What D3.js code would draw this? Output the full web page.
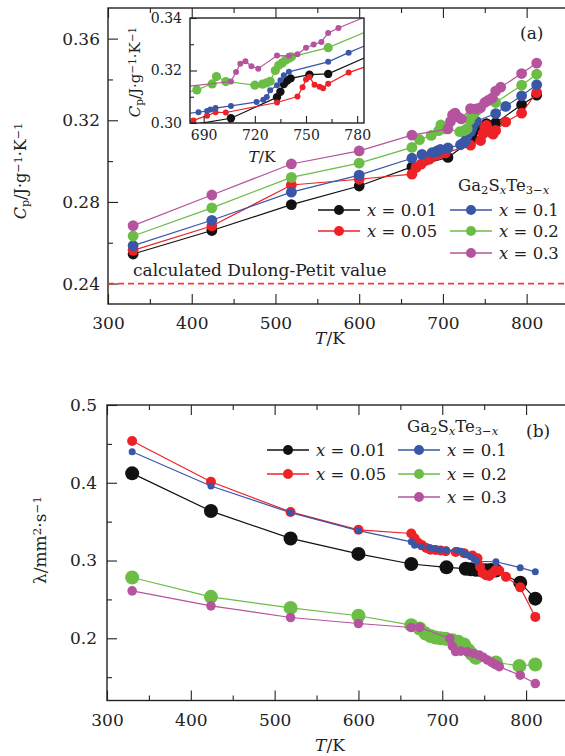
<!DOCTYPE html>
<html>
<head>
<meta charset="utf-8">
<script src="https://cdn.jsdelivr.net/npm/d3@7"></script>
<style>
  body { margin: 0; background: #fff; }
  svg text { font-family: "DejaVu Serif", serif; fill: #222; }
</style>
</head>
<body>
<svg id="chart" width="565" height="756"></svg>
<script>
// ---- data: [T (K), value] ----
// (a) specific heat Cp, J g^-1 K^-1
const cpX001 = [[330,0.2545],[424,0.2660],[519,0.2787],[600,0.2878],[663,0.2972],[706,0.3018],[733,0.3098],[735,0.3119],[737,0.3148],[739,0.3162],[741,0.3170],[752,0.3184],[763,0.3187],[794,0.3276],[812,0.3323]];
const cpX005 = [[330,0.2563],[424,0.2682],[519,0.2883],[600,0.2911],[663,0.2936],[668,0.2969],[674,0.2985],[680,0.3004],[684,0.3010],[692,0.3028],[697,0.3041],[703,0.3040],[733,0.3078],[745,0.3101],[748,0.3136],[750,0.3166],[752,0.3175],[755,0.3146],[758,0.3138],[760,0.3132],[763,0.3150],[775,0.3192],[794,0.3235],[812,0.3336]];
const cpX01  = [[330,0.2586],[424,0.2710],[519,0.2848],[600,0.2931],[663,0.3014],[675,0.3033],[687,0.3041],[692,0.3046],[694,0.3051],[697,0.3057],[706,0.3065],[721,0.3080],[725,0.3089],[727,0.3099],[729,0.3125],[733,0.3144],[735,0.3163],[737,0.3182],[740,0.3195],[763,0.3233],[775,0.3268],[794,0.3320],[812,0.3374]];
const cpX02  = [[330,0.2633],[424,0.2771],[519,0.2920],[600,0.2990],[663,0.3067],[672,0.3105],[686,0.3126],[695,0.3149],[697.5,0.3177],[703,0.3158],[720,0.3144],[724.5,0.3148],[727,0.3153],[729,0.3159],[732,0.3200],[734,0.3220],[736,0.3229],[738,0.3239],[740,0.3247],[741.5,0.3252],[763,0.3287],[794,0.3372],[812,0.3426]];
const cpX03  = [[330,0.2684],[424,0.2834],[519,0.2986],[600,0.3050],[663,0.3127],[706,0.3158],[709,0.3194],[711.5,0.3226],[714.5,0.3235],[718,0.3216],[722,0.3207],[733,0.3257],[740,0.3256],[745,0.3262],[750,0.3287],[754.5,0.3299],[759,0.3309],[763,0.3343],[769,0.3362],[794,0.3429],[812,0.3480]];
const dulongPetit = 0.24;

// (b) thermal diffusivity, mm^2 s^-1
const lamX001 = [[330,0.4121],[424,0.3636],[519,0.3284],[600,0.3085],[663,0.2955],[705,0.2912],[728,0.2895],[734,0.2888],[740,0.2882],[746,0.2878],[752,0.2876],[758,0.2878],[764,0.2872],[793,0.2715],[811,0.2510]];
const lamX005 = [[330,0.4537],[424,0.4013],[519,0.3625],[600,0.3395],[663,0.3348],[667,0.3285],[671,0.3230],[676,0.3195],[681,0.3160],[686,0.3140],[692,0.3135],[698,0.3128],[704,0.3120],[716,0.3110],[726,0.3095],[736,0.3065],[742,0.3030],[745,0.2920],[748,0.2840],[752,0.2810],[756,0.2800],[760,0.2840],[764,0.2880],[768,0.2870],[776,0.2790],[793,0.2655],[811,0.2275]];
const lamX01  = [[330,0.4399],[424,0.3958],[519,0.3615],[600,0.3385],[663,0.3240],[667,0.3198],[675,0.3180],[685,0.3168],[691,0.3155],[697,0.3138],[705,0.3134],[718,0.3128],[722,0.3120],[726,0.3095],[730,0.3070],[734,0.3050],[738,0.3020],[741,0.2990],[764,0.2984],[793,0.2908],[811,0.2855]];
const lamX02  = [[330,0.2782],[424,0.2533],[519,0.2391],[600,0.2290],[663,0.2169],[673,0.2126],[680,0.2060],[686,0.2030],[692,0.2010],[698,0.2000],[704,0.1995],[712,0.1975],[719,0.1955],[726,0.1920],[731,0.1850],[735,0.1800],[740,0.1750],[764,0.1690],[792,0.1645],[811,0.1663]];
const lamX03  = [[330,0.2610],[424,0.2417],[519,0.2267],[600,0.2190],[663,0.2139],[673,0.2139],[709,0.1997],[712,0.1900],[716,0.1830],[722,0.1835],[730,0.1825],[737,0.1805],[744,0.1785],[749,0.1755],[754,0.1720],[759,0.1690],[764,0.1660],[768,0.1635],[793,0.1525],[811,0.1418]];

const xLabels = ['0.01', '0.05', '0.1', '0.2', '0.3'];
const colors = ['#111111', '#ee2226', '#3a56a6', '#6bbd46', '#b5539f'];

const svg = d3.select('#chart');

// add text made of parts: {t, it, sub, sup}
function rich(sel, parts) {
    parts.forEach(p => {
        const ts = sel.append('tspan').text(p.t);
        if (p.it) ts.style('font-style', 'italic');
        if (p.sub) ts.attr('baseline-shift', '-28%').attr('font-size', '70%');
        if (p.sup) ts.attr('baseline-shift', '40%').attr('font-size', '70%');
    });
    return sel;
}

function drawAxes(g, x, y, o) {
    const [x0, x1] = x.range();
    const [yb, yt] = y.range();

    // bottom ticks (inward) with labels
    g.append('g').attr('transform', `translate(0,${yb})`)
        .call(d3.axisBottom(x).tickValues(o.xMajor).tickSize(-o.major).tickPadding(o.xPad).tickFormat(d3.format('d')));
    g.append('g').attr('transform', `translate(0,${yb})`)
        .call(d3.axisBottom(x).tickValues(o.xMinor).tickSize(-o.minor).tickFormat(''));
    // mirrored on top
    if (o.topTicks) {
        g.append('g').attr('transform', `translate(0,${yt})`)
            .call(d3.axisTop(x).tickValues(o.xMajor).tickSize(-o.major).tickFormat(''));
        g.append('g').attr('transform', `translate(0,${yt})`)
            .call(d3.axisTop(x).tickValues(o.xMinor).tickSize(-o.minor).tickFormat(''));
    }
    // left ticks
    g.append('g').attr('transform', `translate(${x0},0)`)
        .call(d3.axisLeft(y).tickValues(o.yMajor).tickSize(-o.major).tickPadding(o.yPad).tickFormat(d3.format(o.yFmt)));
    g.append('g').attr('transform', `translate(${x0},0)`)
        .call(d3.axisLeft(y).tickValues(o.yMinor).tickSize(-o.minor).tickFormat(''));

    g.selectAll('.domain').remove();
    g.selectAll('.tick line').attr('stroke', '#222').attr('stroke-width', 1.1);
    g.selectAll('.tick text').style('font-family', '"DejaVu Serif", serif')
        .style('font-size', o.font + 'px').attr('fill', '#333');

    // frame
    g.append('rect').attr('x', x0).attr('y', yt).attr('width', x1 - x0).attr('height', yb - yt)
        .attr('fill', 'none').attr('stroke', '#222').attr('stroke-width', 1.4);
}

function drawSeries(g, data, x, y, color, r) {
    g.append('path').datum(data)
        .attr('fill', 'none').attr('stroke', color).attr('stroke-width', 1.2)
        .attr('d', d3.line().x(d => x(d[0])).y(d => y(d[1])));
    g.selectAll(null).data(data).enter().append('circle')
        .attr('cx', d => x(d[0])).attr('cy', d => y(d[1]))
        .attr('r', r).attr('fill', color);
}

function legend(g, tx, ty, cols, rowY, r, font) {
    rich(g.append('text').attr('x', tx).attr('y', ty).attr('font-size', font),
        [{t: 'Ga'}, {t: '2', sub: true}, {t: 'S'}, {t: 'x', it: true, sub: true}, {t: 'Te'}, {t: '3\u2212', sub: true}, {t: 'x', it: true, sub: true}]);
    xLabels.forEach((lab, i) => {
        const c = cols[i < 2 ? 0 : 1];
        const cy = rowY[i < 2 ? i : i - 2];
        g.append('line').attr('x1', c).attr('x2', c + 42).attr('y1', cy).attr('y2', cy)
            .attr('stroke', colors[i]).attr('stroke-width', 1.3);
        g.append('circle').attr('cx', c + 21).attr('cy', cy).attr('r', r).attr('fill', colors[i]);
        rich(g.append('text').attr('x', c + 49).attr('y', cy + 6).attr('font-size', font),
            [{t: 'x', it: true}, {t: ' = ' + lab}]);
    });
}

// ================= panel (a) =================
const ga = svg.append('g');
const xa = d3.scaleLinear().domain([300, 850]).range([108, 568.5]);
const ya = d3.scaleLinear().domain([0.23, 0.375]).range([304, 8]);

drawAxes(ga, xa, ya, {
    xMajor: [300, 400, 500, 600, 700, 800], xMinor: [350, 450, 550, 650, 750, 850],
    yMajor: [0.24, 0.28, 0.32, 0.36], yMinor: [0.26, 0.30, 0.34], yFmt: '.2f',
    major: 10, minor: 5, xPad: 13, yPad: 8, font: 17, topTicks: true
});

// Dulong-Petit line
ga.append('line').attr('x1', xa(300)).attr('x2', xa(850)).attr('y1', ya(dulongPetit)).attr('y2', ya(dulongPetit))
    .attr('stroke', '#f23a3e').attr('stroke-width', 1.6).attr('stroke-dasharray', '6,4');
ga.append('text').attr('x', 133).attr('y', 276).attr('font-size', 17).text('calculated Dulong-Petit value');

const cpSets = [cpX001, cpX005, cpX01, cpX02, cpX03];
cpSets.forEach((s, i) => drawSeries(ga, s, xa, ya, colors[i], 5.4));

legend(ga, 458, 191, [318, 450], [210, 231, 253], 5, 16.5);
ga.append('text').attr('x', 520).attr('y', 39).attr('font-size', 17).text('(a)');

rich(ga.append('text').attr('x', 330).attr('y', 344).attr('text-anchor', 'middle').attr('font-size', 17),
    [{t: 'T', it: true}, {t: '/K'}]);
rich(ga.append('text').attr('transform', 'translate(26,171) rotate(-90)').attr('text-anchor', 'middle').attr('font-size', 16),
    [{t: 'C', it: true}, {t: 'p', sub: true}, {t: '/J\u00b7g'}, {t: '\u22121', sup: true}, {t: '\u00b7K'}, {t: '\u22121', sup: true}]);

// ---- inset ----
const gi = svg.append('g');
const xi = d3.scaleLinear().domain([682, 784]).range([190, 364]);
const yi = d3.scaleLinear().domain([0.30, 0.34]).range([123, 18]);
gi.append('rect').attr('x', 190).attr('y', 18).attr('width', 174).attr('height', 105).attr('fill', '#fff');
svg.append('clipPath').attr('id', 'inclip').append('rect')
    .attr('x', 190).attr('y', 18).attr('width', 174).attr('height', 105);
const gid = gi.append('g').attr('clip-path', 'url(#inclip)');
const insetR = [4.2, 3, 3, 4.6, 3];
cpSets.forEach((s, i) => drawSeries(gid, s, xi, yi, colors[i], insetR[i]));
drawAxes(gi, xi, yi, {
    xMajor: [690, 720, 750, 780], xMinor: [705, 735, 765],
    yMajor: [0.30, 0.32, 0.34], yMinor: [0.31, 0.33], yFmt: '.2f',
    major: 7, minor: 4, xPad: 7, yPad: 8, font: 14, topTicks: false
});
rich(gi.append('text').attr('x', 262).attr('y', 162).attr('text-anchor', 'middle').attr('font-size', 15.5),
    [{t: 'T', it: true}, {t: '/K'}]);
rich(gi.append('text').attr('transform', 'translate(140,72) rotate(-90)').attr('text-anchor', 'middle').attr('font-size', 15),
    [{t: 'C', it: true}, {t: 'p', sub: true}, {t: '/J\u00b7g'}, {t: '\u22121', sup: true}, {t: '\u00b7K'}, {t: '\u22121', sup: true}]);

// ================= panel (b) =================
const gb = svg.append('g');
const xb = d3.scaleLinear().domain([300, 850]).range([107, 568]);
const yb = d3.scaleLinear().domain([0.12, 0.5]).range([700.5, 405]);

drawAxes(gb, xb, yb, {
    xMajor: [300, 400, 500, 600, 700, 800], xMinor: [350, 450, 550, 650, 750, 850],
    yMajor: [0.2, 0.3, 0.4, 0.5], yMinor: [0.15, 0.25, 0.35, 0.45], yFmt: '.1f',
    major: 10, minor: 5, xPad: 13, yPad: 10, font: 17, topTicks: true
});

const lamSets = [lamX001, lamX005, lamX01, lamX02, lamX03];
const lamR = [7, 5, 3.5, 7, 4.8];
lamSets.forEach((s, i) => drawSeries(gb, s, xb, yb, colors[i], lamR[i]));

legend(gb, 407, 432, [267, 398], [450, 474, 497], 5, 16.5);
gb.append('text').attr('x', 526).attr('y', 437).attr('font-size', 17).text('(b)');

rich(gb.append('text').attr('x', 330).attr('y', 751).attr('text-anchor', 'middle').attr('font-size', 17),
    [{t: 'T', it: true}, {t: '/K'}]);
rich(gb.append('text').attr('transform', 'translate(46,540) rotate(-90)').attr('text-anchor', 'middle').attr('font-size', 17),
    [{t: '\u03bb/mm'}, {t: '2', sup: true}, {t: '\u00b7s'}, {t: '\u22121', sup: true}]);
</script>
</body>
</html>
